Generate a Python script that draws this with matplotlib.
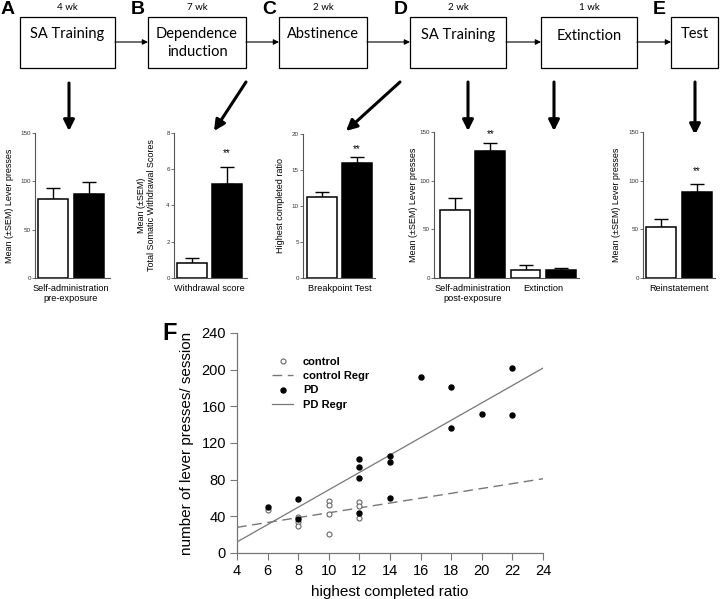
import numpy as np
import matplotlib
matplotlib.use('Agg')
import matplotlib.pyplot as plt
from matplotlib.patches import Rectangle

plt.rcParams['font.family'] = ['Liberation Sans', 'DejaVu Sans']

W, H = 720, 599

# flow diagram
stages = ['SA Training', 'Dependence\ninduction', 'Abstinence', 'SA Training', 'Extinction', 'Test']
durations = ['4 wk', '7 wk', '2 wk', '2 wk', '1 wk', '']

# bar panels (control, PD)
a_vals = [82, 87]
a_err = [11.5, 12.5]
b_vals = [0.8, 5.2]
b_err = [0.33, 0.95]
c_vals = [11.25, 16.0]
c_err = [0.7, 0.85]
d_vals = [70, 130.5, 8.2, 8.2]
d_err = [12, 8.5, 5.2, 2.2]
e_vals = [52.4, 88.4]
e_err = [8.2, 8.2]

# scatter panel F
ctrl_x = [6, 8, 8, 8, 10, 10, 10, 10, 12, 12, 12]
ctrl_y = [47, 39, 34, 30, 57, 52, 43, 21, 56, 51, 38]
pd_x = [6, 8, 8, 12, 12, 12, 12, 14, 14, 14, 16, 18, 18, 20, 22, 22]
pd_y = [50, 59, 37, 103, 94, 82, 44, 106, 99, 60, 192, 181, 136, 152, 151, 202]
ctrl_fit = [2.65, 17.4]   # slope, intercept as printed


fig = plt.figure(figsize=(7.2, 5.99), dpi=100)


def px_axes(l, t, r, b):
    return fig.add_axes([l / W, 1 - b / H, (r - l) / W, (b - t) / H])


# ---- top flow diagram ----
fl = fig.add_axes([0, 0, 1, 1])
fl.set_xlim(0, W)
fl.set_ylim(H, 0)
fl.axis('off')

boxes = [(20, 115), (148, 246), (279, 367), (410, 506), (541, 637), (671, 718)]
text_y = [34, 43, 34, 35, 36, 34]
for i, (x0, x1) in enumerate(boxes):
    fl.add_patch(Rectangle((x0, 17), x1 - x0, 51, fill=False, ec='black', lw=0.9))
    fl.text((x0 + x1) / 2, text_y[i], stages[i], ha='center', va='center',
            fontsize=10.5, family='Lato', linespacing=1.3)
    if durations[i]:
        fl.text((x0 + x1) / 2, 8, durations[i], ha='center', va='center',
                fontsize=7, family='Lato')
    if i < len(boxes) - 1:
        fl.annotate('', xy=(boxes[i + 1][0], 42), xytext=(x1, 42),
                    arrowprops=dict(arrowstyle='-|>', color='black', lw=0.8,
                                    mutation_scale=8, shrinkA=0, shrinkB=0))

letters = [('A', 8, 9), ('B', 138, 9), ('C', 269, 9), ('D', 401, 9), ('E', 659, 9)]
for s, x, y in letters:
    fl.text(x, y, s, ha='center', va='center', fontsize=14, fontweight='bold')

down = [((69, 83), (69, 131)), ((246, 82), (214, 131)), ((400, 82), (346, 131)),
        ((468, 82), (468, 131)), ((554, 82), (554, 131)), ((695, 82), (695, 135))]
for (x0, y0), (x1, y1) in down:
    fl.annotate('', xy=(x1, y1), xytext=(x0, y0),
                arrowprops=dict(arrowstyle='-|>', color='black', lw=2.2,
                                mutation_scale=16, shrinkA=0, shrinkB=0))

fl.text(170, 333, 'F', ha='center', va='center', fontsize=17, fontweight='bold')


# ---- bar panels ----
def bar_panel(rect, vals, errs, ylim, yticks, xt, xlabels, ylabel, ylab_x, xlim, stars):
    ax = px_axes(*rect)
    x = np.arange(len(vals))
    cols = ['white', 'black'] * (len(vals) // 2)
    ax.bar(x, vals, width=0.84, color=cols, edgecolor='black', lw=1.1, zorder=2)
    ax.errorbar(x, vals, yerr=[np.zeros(len(vals)), errs], fmt='none', ecolor='black',
                elinewidth=1.0, capsize=5, capthick=1.0, zorder=1)
    ax.set_xlim(*xlim)
    ax.set_ylim(*ylim)
    ax.set_yticks(yticks)
    ax.tick_params(axis='y', labelsize=4.5, length=2, width=0.6, pad=1,
                   colors='#555555', labelcolor='#333333')
    ax.set_xticks(xt)
    ax.set_xticklabels(xlabels, fontsize=6.6, linespacing=1.2)
    ax.tick_params(axis='x', length=0, pad=4)
    for s in ['top', 'right']:
        ax.spines[s].set_visible(False)
    for s in ['left', 'bottom']:
        ax.spines[s].set_color('#555555')
        ax.spines[s].set_linewidth(0.8)
    ax.set_ylabel(ylabel, fontsize=6.5, linespacing=1.15)
    ax.yaxis.set_label_coords(ylab_x, 0.5)
    if stars is not None:
        ax.text(1, stars, '**', ha='center', va='center', fontsize=7)
    return ax


bar_panel((35, 133, 110, 278), a_vals, a_err, (0, 150), [0, 50, 100, 150], [0.5],
          ['Self-administration\npre-exposure'], 'Mean (\u00b1SEM) Lever presses', -0.28,
          (-0.5, 1.58), None)
bar_panel((174, 133, 247, 278), b_vals, b_err, (0, 8), [0, 2, 4, 6, 8], [0.5],
          ['Withdrawal score'], 'Mean (\u00b1SEM)\nTotal Somatic Withdrawal Scores', -0.25,
          (-0.51, 1.57), 6.9)
bar_panel((303, 134, 375, 278), c_vals, c_err, (0, 20), [0, 5, 10, 15, 20], [0.5],
          ['Breakpoint Test'], 'Highest completed ratio', -0.25,
          (-0.54, 1.51), 17.9)
bar_panel((434, 132, 579, 278), d_vals, d_err, (0, 150), [0, 50, 100, 150], [0.5, 2.5],
          ['Self-administration\npost-exposure', 'Extinction'], 'Mean (\u00b1SEM) Lever presses',
          -0.11, (-0.59, 3.51), 148)
bar_panel((643, 132, 715, 278), e_vals, e_err, (0, 150), [0, 50, 100, 150], [0.5],
          ['Reinstatement'], 'Mean (\u00b1SEM) Lever presses', -0.3,
          (-0.5, 1.5), 110)


# ---- scatter panel F ----
ax = px_axes(237, 333, 543, 553)
xs = np.array([4, 24])
pd_fit = np.polyfit(pd_x, pd_y, 1)
ax.plot(ctrl_x, ctrl_y, 'o', ms=3.6, mfc='white', mec='#666666', mew=0.8, ls='none',
        label='control', zorder=3)
ax.plot(xs, np.polyval(ctrl_fit, xs), color='#777777', lw=1.0, ls=(0, (7, 4)),
        label='control Regr', zorder=2)
ax.plot(pd_x, pd_y, 'o', ms=3.6, color='black', ls='none', label='PD', zorder=4)
ax.plot(xs, np.polyval(pd_fit, xs), color='#777777', lw=0.9, label='PD Regr', zorder=2)

ax.set_xlim(4, 24)
ax.set_ylim(0, 240)
ax.set_xticks(np.arange(4, 25, 2))
ax.set_yticks(np.arange(0, 241, 40))
ax.tick_params(labelsize=10.5, length=5, width=0.8, colors='#777777', labelcolor='black', pad=3)
for s in ['top', 'right']:
    ax.spines[s].set_visible(False)
for s in ['left', 'bottom']:
    ax.spines[s].set_color('#777777')
    ax.spines[s].set_linewidth(0.9)
ax.set_xlabel('highest completed ratio', fontsize=11, labelpad=5)
ax.set_ylabel('number of lever presses/ session', fontsize=11, labelpad=5)
ax.legend(loc='upper left', bbox_to_anchor=((272 - 237) / 306, (553 - 357) / 220),
          frameon=False, borderaxespad=0, borderpad=0, handlelength=1.9,
          handletextpad=0.9, labelspacing=0.38, prop={'size': 8, 'weight': 'bold'})

fig.savefig('out.png', dpi=100)
